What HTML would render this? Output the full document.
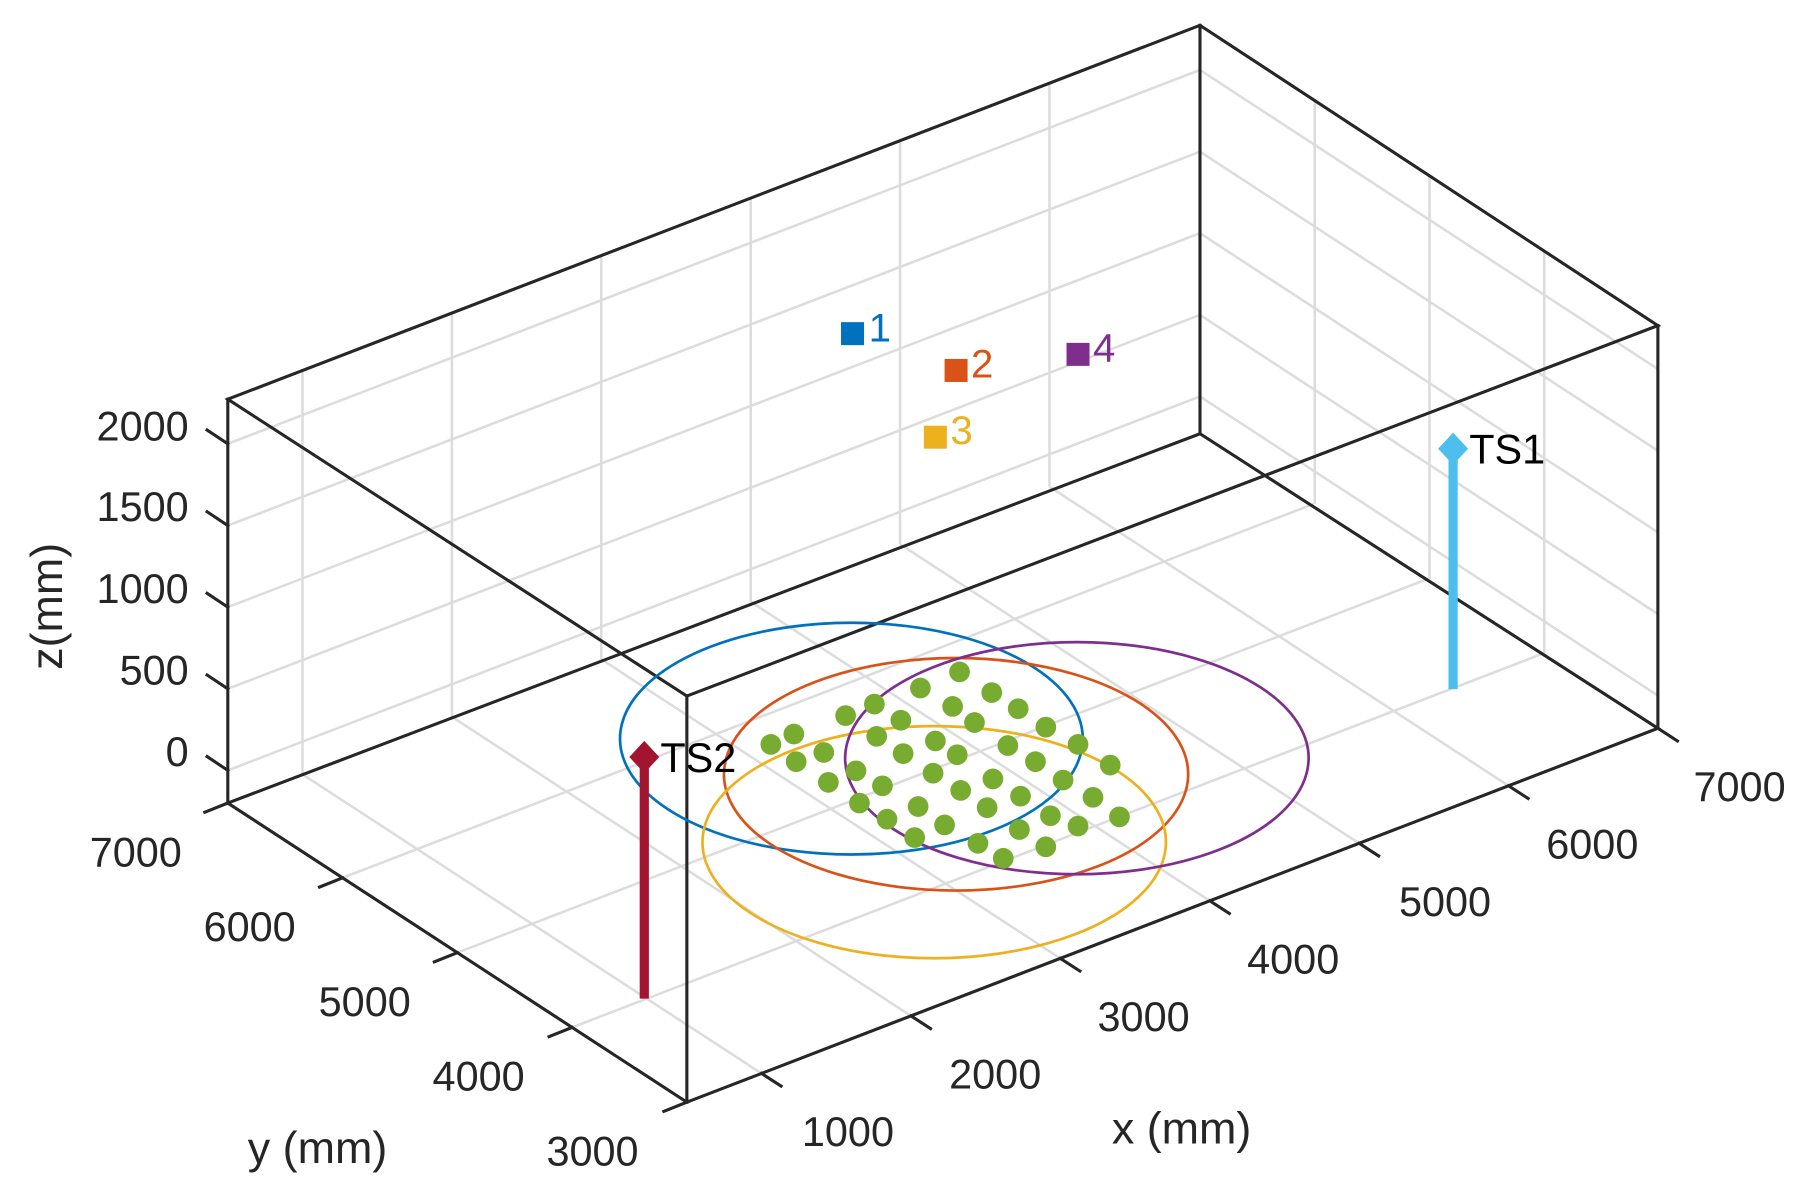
<!DOCTYPE html>
<html><head><meta charset="utf-8"><style>html,body{margin:0;padding:0;background:#fff}svg{display:block}</style></head>
<body>
<svg width="1804" height="1194" viewBox="0 0 1568 1037.8" xmlns="http://www.w3.org/2000/svg" font-family="Liberation Sans, Arial, sans-serif">
<rect width="1568" height="1038" fill="#fff"/>
<g stroke="#dcdcdc" stroke-width="2.2" fill="none">
<line x1="661.9" y1="933" x2="262.9" y2="673"/>
<line x1="791.8" y1="883" x2="392.8" y2="623"/>
<line x1="921.6" y1="833" x2="522.6" y2="573"/>
<line x1="1051.5" y1="783" x2="652.5" y2="523"/>
<line x1="1181.3" y1="733" x2="782.3" y2="473"/>
<line x1="1311.2" y1="683" x2="912.2" y2="423"/>
<line x1="497.25" y1="893" x2="1341.25" y2="568"/>
<line x1="397.5" y1="828" x2="1241.5" y2="503"/>
<line x1="297.75" y1="763" x2="1141.75" y2="438"/>
<line x1="262.9" y1="673" x2="262.9" y2="322"/>
<line x1="392.8" y1="623" x2="392.8" y2="272"/>
<line x1="522.6" y1="573" x2="522.6" y2="222"/>
<line x1="652.5" y1="523" x2="652.5" y2="172"/>
<line x1="782.3" y1="473" x2="782.3" y2="122"/>
<line x1="912.2" y1="423" x2="912.2" y2="72"/>
<line x1="198" y1="669.6" x2="1043" y2="344.6"/>
<line x1="198" y1="598.7" x2="1043" y2="273.7"/>
<line x1="198" y1="527.7" x2="1043" y2="202.7"/>
<line x1="198" y1="456.8" x2="1043" y2="131.8"/>
<line x1="198" y1="385.8" x2="1043" y2="60.8"/>
<line x1="1142.75" y1="438" x2="1142.75" y2="87"/>
<line x1="1242.5" y1="503" x2="1242.5" y2="152"/>
<line x1="1342.25" y1="568" x2="1342.25" y2="217"/>
<line x1="1043" y1="344.6" x2="1441" y2="604.6"/>
<line x1="1043" y1="273.7" x2="1441" y2="533.7"/>
<line x1="1043" y1="202.7" x2="1441" y2="462.7"/>
<line x1="1043" y1="131.8" x2="1441" y2="391.8"/>
<line x1="1043" y1="60.8" x2="1441" y2="320.8"/>
</g>
<g stroke="#262626" stroke-width="2.7" fill="none" stroke-linecap="square">
<polygon points="198,347 1043,22 1441,283 597,605"/>
<polygon points="198,698 1043,377 1441,633 597,958"/>
<line x1="198" y1="347" x2="198" y2="698"/>
<line x1="1043" y1="22" x2="1043" y2="377"/>
<line x1="1441" y1="283" x2="1441" y2="633"/>
<line x1="597" y1="605" x2="597" y2="958"/>
<line x1="198" y1="669.6" x2="180" y2="657.6"/>
<line x1="198" y1="598.7" x2="180" y2="586.7"/>
<line x1="198" y1="527.7" x2="180" y2="515.7"/>
<line x1="198" y1="456.8" x2="180" y2="444.8"/>
<line x1="198" y1="385.8" x2="180" y2="373.8"/>
<line x1="198" y1="698" x2="178" y2="706"/>
<line x1="297.75" y1="763" x2="277.75" y2="771"/>
<line x1="397.5" y1="828" x2="377.5" y2="836"/>
<line x1="497.25" y1="893" x2="477.25" y2="901"/>
<line x1="597" y1="958" x2="577" y2="966"/>
<line x1="661.9" y1="933" x2="678.9" y2="944"/>
<line x1="791.8" y1="883" x2="808.8" y2="894"/>
<line x1="921.6" y1="833" x2="938.6" y2="844"/>
<line x1="1051.5" y1="783" x2="1068.5" y2="794"/>
<line x1="1181.3" y1="733" x2="1198.3" y2="744"/>
<line x1="1311.2" y1="683" x2="1328.2" y2="694"/>
<line x1="1441" y1="633" x2="1458" y2="644"/>
</g>
<g fill="none" stroke-width="2.7">
<g transform="translate(740,642) matrix(0.12985,-0.05,-0.09975,-0.065,0,0)"><circle r="1228" stroke="#0072BD" vector-effect="non-scaling-stroke"/></g>
<g transform="translate(831,673) matrix(0.12985,-0.05,-0.09975,-0.065,0,0)"><circle r="1232" stroke="#D95319" vector-effect="non-scaling-stroke"/></g>
<g transform="translate(812,732) matrix(0.12985,-0.05,-0.09975,-0.065,0,0)"><circle r="1230" stroke="#EDB120" vector-effect="non-scaling-stroke"/></g>
<g transform="translate(936,659) matrix(0.12985,-0.05,-0.09975,-0.065,0,0)"><circle r="1230" stroke="#7E2F8E" vector-effect="non-scaling-stroke"/></g>
</g>
<g fill="#77AC30">
<circle cx="670" cy="647" r="9"/><circle cx="690" cy="638" r="9"/><circle cx="692" cy="662" r="9"/><circle cx="716" cy="654" r="9"/>
<circle cx="720" cy="680" r="9"/><circle cx="735" cy="622" r="9"/><circle cx="744" cy="670" r="9"/><circle cx="747" cy="698" r="9"/>
<circle cx="760" cy="612" r="9"/><circle cx="762" cy="640" r="9"/><circle cx="767" cy="683" r="9"/><circle cx="771" cy="712" r="9"/>
<circle cx="783" cy="626" r="9"/><circle cx="785" cy="655" r="9"/><circle cx="798" cy="701" r="9"/><circle cx="795" cy="728" r="9"/>
<circle cx="800" cy="598" r="9"/><circle cx="811" cy="672" r="9"/><circle cx="813" cy="644" r="9"/><circle cx="821" cy="717" r="9"/>
<circle cx="828" cy="614" r="9"/><circle cx="832" cy="656" r="9"/><circle cx="835" cy="687" r="9"/><circle cx="834" cy="584" r="9"/>
<circle cx="847" cy="628" r="9"/><circle cx="850" cy="733" r="9"/><circle cx="858" cy="702" r="9"/><circle cx="862" cy="602" r="9"/>
<circle cx="863" cy="677" r="9"/><circle cx="872" cy="746" r="9"/><circle cx="876" cy="648" r="9"/><circle cx="885" cy="616" r="9"/>
<circle cx="887" cy="692" r="9"/><circle cx="900" cy="662" r="9"/><circle cx="886" cy="721" r="9"/><circle cx="909" cy="632" r="9"/>
<circle cx="913" cy="709" r="9"/><circle cx="909" cy="736" r="9"/><circle cx="924" cy="678" r="9"/><circle cx="937" cy="647" r="9"/>
<circle cx="937" cy="718" r="9"/><circle cx="950" cy="693" r="9"/><circle cx="965" cy="665" r="9"/><circle cx="973" cy="710" r="9"/>
</g>
<rect x="1259" y="392" width="8" height="207" fill="#4DBEEE"/>
<polygon points="1263,376 1276,390 1263,404 1250,390" fill="#4DBEEE"/>
<rect x="556" y="660" width="8" height="208" fill="#A2142F"/>
<polygon points="560,644 573,658 560,672 547,658" fill="#A2142F"/>
<rect x="731" y="280" width="20" height="20" fill="#0072BD"/>
<rect x="821" y="312" width="20" height="20" fill="#D95319"/>
<rect x="803" y="370" width="20" height="20" fill="#EDB120"/>
<rect x="927" y="298" width="20" height="20" fill="#7E2F8E"/>
<g font-size="35">
<text x="755" y="297" fill="#0072BD">1</text>
<text x="844" y="328" fill="#D95319">2</text>
<text x="826" y="386" fill="#EDB120">3</text>
<text x="950" y="314" fill="#7E2F8E">4</text>
</g>
<g font-size="36" fill="#000">
<text x="1277" y="403">TS1</text>
<text x="574" y="671">TS2</text>
</g>
<g font-size="36" fill="#262626">
<g text-anchor="end">
<text x="164" y="383">2000</text>
<text x="164" y="453">1500</text>
<text x="164" y="524">1000</text>
<text x="164" y="595">500</text>
<text x="164" y="666">0</text>
</g>
<g text-anchor="middle">
<text x="118" y="753">7000</text>
<text x="217" y="818">6000</text>
<text x="317" y="883">5000</text>
<text x="416" y="948">4000</text>
<text x="515" y="1013">3000</text>
<text x="737" y="996">1000</text>
<text x="865" y="946">2000</text>
<text x="994" y="896">3000</text>
<text x="1124" y="846">4000</text>
<text x="1256" y="796">5000</text>
<text x="1384" y="746">6000</text>
<text x="1512" y="696">7000</text>
</g>
<g font-size="39" text-anchor="middle">
<text x="1027" y="994">x (mm)</text>
<text x="276" y="1011">y (mm)</text>
<text transform="translate(54,527) rotate(-90)">z(mm)</text>
</g>
</g>
</svg>
</body></html>
